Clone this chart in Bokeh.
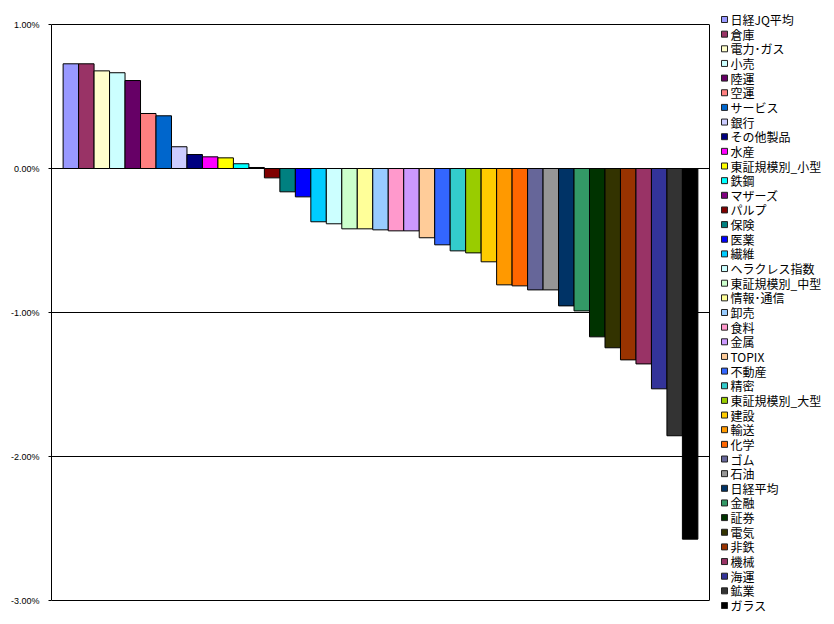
from bokeh.plotting import figure
from bokeh.layouts import row
from bokeh.models import PrintfTickFormatter, FixedTicker, Range1d, ColumnDataSource, LinearAxis
from bokeh.core.properties import value
from bokeh.embed import file_html
from bokeh.resources import INLINE

names = ["日経JQ平均", "倉庫", "電力･ガス", "小売", "陸運", "空運", "サービス", "銀行",
         "その他製品", "水産", "東証規模別_小型", "鉄鋼", "マザーズ", "パルプ", "保険", "医薬",
         "繊維", "ヘラクレス指数", "東証規模別_中型", "情報･通信", "卸売", "食料", "金属", "TOPIX",
         "不動産", "精密", "東証規模別_大型", "建設", "輸送", "化学", "ゴム", "石油", "日経平均",
         "金融", "証券", "電気", "非鉄", "機械", "海運", "鉱業", "ガラス"]
values = [0.727, 0.727, 0.678, 0.665, 0.611, 0.382, 0.366, 0.151, 0.097, 0.081, 0.074, 0.033,
          0.007, -0.065, -0.162, -0.197, -0.370, -0.384, -0.419, -0.419, -0.426, -0.433, -0.433,
          -0.481, -0.530, -0.572, -0.586, -0.648, -0.808, -0.815, -0.843, -0.843, -0.954, -0.989,
          -1.169, -1.245, -1.329, -1.357, -1.530, -1.856, -2.574]
colors = ["#9999FF", "#993366", "#FFFFCC", "#CCFFFF", "#660066", "#FF8080", "#0066CC", "#CCCCFF",
          "#000080", "#FF00FF", "#FFFF00", "#00FFFF", "#800080", "#800000", "#008080", "#0000FF",
          "#00CCFF", "#CCFFFF", "#CCFFCC", "#FFFF99", "#99CCFF", "#FF99CC", "#CC99FF", "#FFCC99",
          "#3366FF", "#33CCCC", "#99CC00", "#FFCC00", "#FF9900", "#FF6600", "#666699", "#969696",
          "#003366", "#339966", "#003300", "#333300", "#993300", "#993366", "#333399", "#333333",
          "#000000"]
y_ticks = [1, 0, -1, -2, -3]
y_min, y_max = -3, 1

n = len(values)
H = 620
TOP, PLOT_H = 24, 576
ppu = PLOT_H / (y_max - y_min)
p = figure(width=714, height=H, output_backend="svg", toolbar_location=None,
           x_range=Range1d(-0.75, n + 0.75),
           y_range=Range1d(y_min - (H - TOP - PLOT_H) / ppu, y_max + TOP / ppu))
p.frame_width = 658
p.frame_height = H
p.min_border_left = 51
p.min_border_top = 0
p.min_border_bottom = 0
p.min_border_right = 5

p.outline_line_color = None
p.xaxis.visible = False
p.xgrid.visible = False
p.ygrid.ticker = FixedTicker(ticks=y_ticks)
p.ygrid.grid_line_color = "black"
p.ygrid.grid_line_width = 1
p.yaxis.ticker = FixedTicker(ticks=y_ticks)
p.yaxis.bounds = (y_min, y_max)
p.yaxis.formatter = PrintfTickFormatter(format="%.2f%%")
p.yaxis.axis_line_color = "black"
p.yaxis.major_tick_line_color = "black"
p.yaxis.major_tick_out = 3
p.yaxis.major_tick_in = 0
p.yaxis.minor_tick_line_color = None
p.yaxis.major_label_text_font = "Liberation Sans"
p.yaxis.major_label_text_font_size = "9px"
p.yaxis.major_label_text_color = "black"
p.yaxis.major_label_standoff = 9

right_axis = LinearAxis(ticker=FixedTicker(ticks=[]), bounds=(y_min, y_max),
                        axis_line_color="black", major_tick_line_color=None,
                        minor_tick_line_color=None, major_label_text_font_size="0px")
p.add_layout(right_axis, "right")

src = ColumnDataSource(dict(x=[i + 0.5 for i in range(n)], top=values, color=colors, name=names))
p.vbar(x="x", top="top", bottom=0, width=1, fill_color="color", line_color="black",
       line_width=1, source=src)

# legend panel (pixel-unit ranges)
LW = 120
pitch = 14.65
lg = figure(width=LW, height=H, output_backend="svg", toolbar_location=None,
            x_range=Range1d(0, LW), y_range=Range1d(H, 0))
lg.frame_width = LW
lg.frame_height = H
lg.min_border = 0
lg.min_border_left = lg.min_border_right = lg.min_border_top = lg.min_border_bottom = 0
lg.axis.visible = False
lg.grid.visible = False
lg.outline_line_color = None
lsrc = ColumnDataSource(dict(y=[19 + i * pitch for i in range(n)], color=colors, name=names))
lg.rect(x=10, y="y", width=6, height=6, fill_color="color", line_color="#222222",
        line_width=1, source=lsrc)
lg.text(x=16, y="y", text="name", text_font=value("Noto Sans CJK JP"),
        text_font_size="12px", text_color="black", text_baseline="middle",
        text_align="left", source=lsrc)

layout = row(p, lg)
open("out.html", "w").write(file_html(layout, INLINE))
